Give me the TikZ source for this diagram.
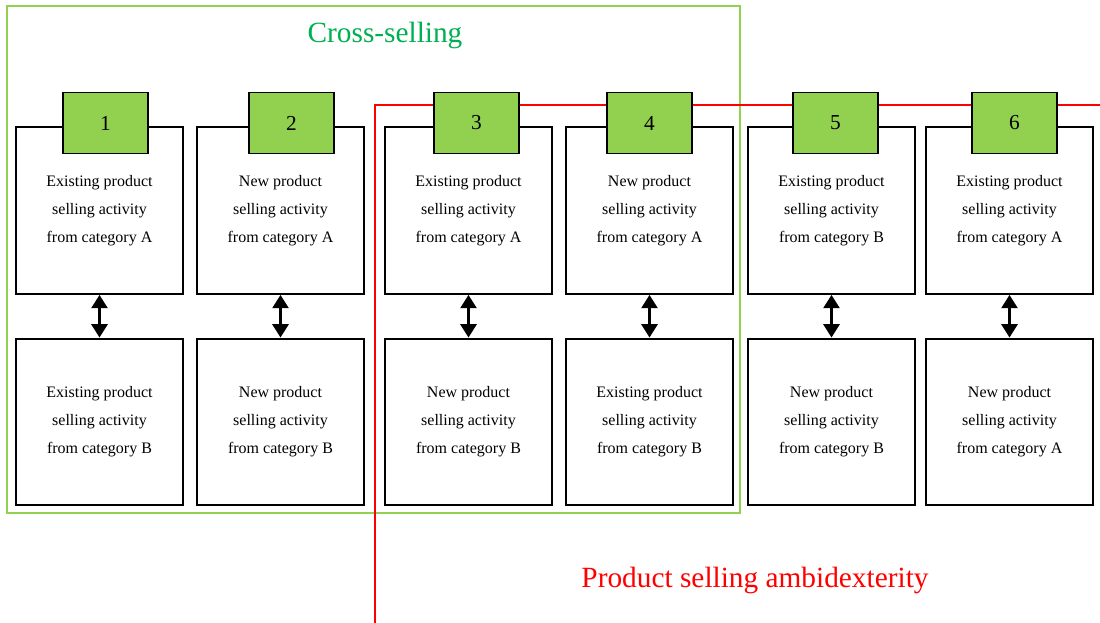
\documentclass[tikz,border=0pt]{standalone}
\usepackage{fontspec}
\setmainfont{Liberation Serif}
\usetikzlibrary{arrows.meta}
\definecolor{leafgreen}{HTML}{92D050}
\definecolor{titlegreen}{HTML}{00B050}

\begin{document}
\begin{tikzpicture}[auto, node distance=136.5pt, x=0.75pt, y=-0.75pt,
	activity/.style={rectangle,draw,line width=1.6pt,fill=white,minimum width=125pt,minimum height=125pt,align=center,inner sep=0pt,font=\fontsize{12}{21}\selectfont},
	badge/.style={rectangle,draw,line width=1.1pt,fill=leafgreen,minimum width=64pt,minimum height=45.5pt,font=\fontsize{16}{19}\selectfont},
	link/.style={{Triangle[width=12pt,length=10pt]}-{Triangle[width=12pt,length=10pt]},line width=2pt}]
		\clip (0,0) rectangle (1100,623);
		% Frames
		\draw [leafgreen,line width=1.5pt] (7,6) rectangle (740,513);
		\draw [red,line width=1.5pt] (375,105) rectangle (1120,624);
		\node [color=titlegreen,font=\fontsize{22}{26}\selectfont] (cross) at (385,35) {Cross-selling};
		\node [color=red,font=\fontsize{22}{26}\selectfont] (ambi) at (755,580) {Product selling ambidexterity};

		% Place nodes
		\node [activity] (t1) at (99.5,210.5) {Existing product\\selling activity\\from category A};
		\node [activity,right of=t1,node distance=135.75pt] (t2) {New product\\selling activity\\from category A};
		\node [activity,right of=t2,node distance=141pt] (t3) {Existing product\\selling activity\\from category A};
		\node [activity,right of=t3,node distance=135.75pt] (t4) {New product\\selling activity\\from category A};
		\node [activity,right of=t4,node distance=136.5pt] (t5) {Existing product\\selling activity\\from category B};
		\node [activity,right of=t5,node distance=133.5pt] (t6) {Existing product\\selling activity\\from category A};

		\node [activity,below of=t1,node distance=158.6pt] (b1) {Existing product\\selling activity\\from category B};
		\node [activity,below of=t2,node distance=158.6pt] (b2) {New product\\selling activity\\from category B};
		\node [activity,below of=t3,node distance=158.6pt] (b3) {New product\\selling activity\\from category B};
		\node [activity,below of=t4,node distance=158.6pt] (b4) {Existing product\\selling activity\\from category B};
		\node [activity,below of=t5,node distance=158.6pt] (b5) {New product\\selling activity\\from category B};
		\node [activity,below of=t6,node distance=158.6pt] (b6) {New product\\selling activity\\from category A};

		\node [badge,above of=t1,node distance=65.6pt,xshift=4.5pt] (n1) {1};
		\node [badge,above of=t2,node distance=65.6pt,xshift=8.25pt] (n2) {2};
		\node [badge,above of=t3,node distance=65.6pt,xshift=6pt] (n3) {3};
		\node [badge,above of=t4,node distance=65.6pt] (n4) {4};
		\node [badge,above of=t5,node distance=65.6pt,xshift=3pt] (n5) {5};
		\node [badge,above of=t6,node distance=65.6pt,xshift=3.75pt] (n6) {6};

		% Links
		\draw [link] (t1) -- (b1);
		\draw [link] (t2) -- (b2);
		\draw [link] (t3) -- (b3);
		\draw [link] (t4) -- (b4);
		\draw [link] (t5) -- (b5);
		\draw [link] (t6) -- (b6);
	\end{tikzpicture}
\end{document}
